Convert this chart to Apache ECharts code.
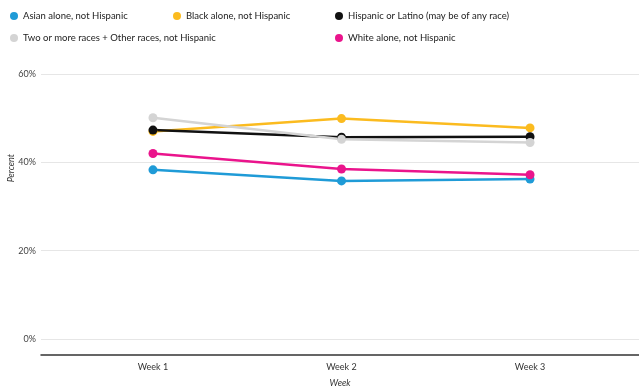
<!DOCTYPE html>
<html>
<head>
<meta charset="utf-8">
<script src="https://cdn.jsdelivr.net/npm/echarts@6/dist/echarts.min.js"></script>
<style>html,body{margin:0;padding:0;background:#fff}#main{width:639px;height:387px}</style>
</head>
<body>
<div id="main"></div>
<script>
var weeks = ['Week 1', 'Week 2', 'Week 3'];
var groups = ['Asian alone, not Hispanic', 'Black alone, not Hispanic', 'Hispanic or Latino (may be of any race)',
    'Two or more races + Other races, not Hispanic', 'White alone, not Hispanic'];
var asian = [38.3, 35.8, 36.2];
var black = [47.0, 49.9, 47.8];
var hispanic = [47.3, 45.7, 45.8];
var twoOrMore = [50.1, 45.2, 44.5];
var white = [42.0, 38.5, 37.2];
var yTicks = [0, 20, 40, 60];

var colors = ['#1f9bd7', '#fbbb1f', '#111111', '#d4d4d4', '#ea148c'];
var values = [asian, black, hispanic, twoOrMore, white];
var font = 'Lato, "Open Sans", sans-serif';

var chart = echarts.init(document.getElementById('main'));

// legend spots
var legendPos = [[5, 6], [168, 6], [330, 6], [5, 28], [330, 28]];
var legends = groups.map(function (g, i) {
    return {
        data: [g], left: legendPos[i][0], top: legendPos[i][1],
        icon: 'circle', itemWidth: 8, itemHeight: 8, itemGap: 6,
        textStyle: {fontFamily: font, fontSize: 9.5, color: '#222'},
        selectedMode: false
    };
});

var series = groups.map(function (g, i) {
    return {
        name: g, type: 'line',
        data: values[i].map(function (v, j) { return [j + 1, v]; }),
        symbol: 'circle', symbolSize: 9,
        lineStyle: {width: 2.5, color: colors[i]},
        itemStyle: {color: colors[i]},
        color: colors[i]
    };
});

chart.setOption({
    animation: false,
    color: colors,
    legend: legends,
    grid: {left: 41, right: 0, top: 74, bottom: 48, outerBoundsMode: 'none', containLabel: false},
    xAxis: {
        type: 'value', min: 0.406, max: 3.578,
        offset: 16,
        name: 'Week', nameLocation: 'middle', nameGap: 24,
        nameTextStyle: {fontFamily: font, fontSize: 9, fontStyle: 'italic', color: '#333'},
        axisLine: {show: true, onZero: false, lineStyle: {color: '#333', width: 1.5}},
        axisTick: {show: false},
        splitLine: {show: false},
        axisLabel: {
            customValues: [1, 2, 3], margin: 8,
            alignMinLabel: 'center', alignMaxLabel: 'center',
            fontFamily: font, fontSize: 9, color: '#333',
            formatter: function (v) { return weeks[Math.round(v) - 1]; }
        }
    },
    yAxis: {
        type: 'value', min: 0, max: 60, interval: 20,
        axisLine: {show: false}, axisTick: {show: false},
        splitLine: {lineStyle: {color: '#e6e6e6', width: 1}},
        axisLabel: {
            customValues: yTicks, margin: 5,
            fontFamily: font, fontSize: 9, color: '#444',
            formatter: '{value}%'
        }
    },
    graphic: [{
        type: 'text', left: 7, top: 154, rotation: Math.PI / 2,
        style: {text: 'Percent', fontFamily: font, fontSize: 9, fontStyle: 'italic', fill: '#333'}
    }],
    series: series
});
</script>
</body>
</html>
